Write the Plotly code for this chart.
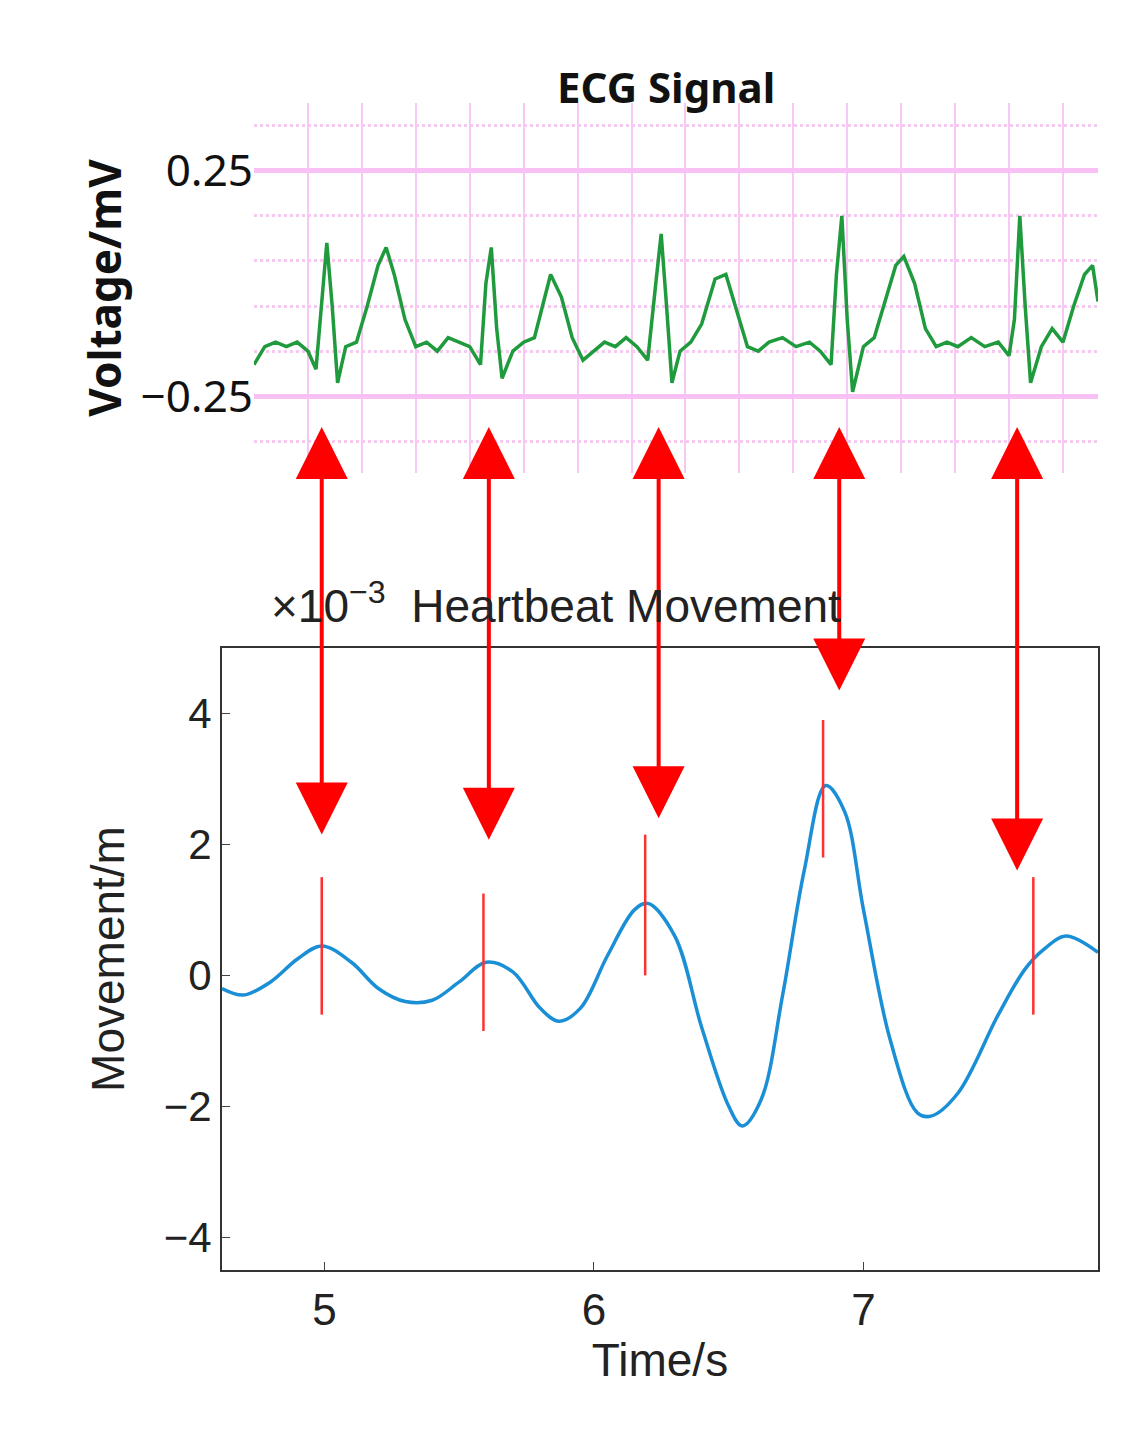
import plotly.graph_objects as go

# ECG samples (time s, voltage mV)
ecg_t = [4.74,4.78,4.82,4.86,4.90,4.94,4.97,4.99,5.01,5.03,5.05,5.08,5.12,5.16,5.20,5.23,5.26,5.30,5.34,5.38,5.42,5.46,5.50,5.54,5.58,5.60,5.62,5.64,5.66,5.70,5.74,5.78,5.81,5.84,5.88,5.92,5.96,6.00,6.04,6.08,6.12,6.16,6.20,6.23,6.25,6.27,6.29,6.32,6.36,6.40,6.45,6.49,6.53,6.57,6.61,6.65,6.70,6.75,6.80,6.84,6.88,6.90,6.92,6.94,6.96,7.00,7.04,7.08,7.12,7.15,7.19,7.23,7.27,7.31,7.35,7.40,7.45,7.50,7.54,7.56,7.58,7.60,7.62,7.66,7.70,7.74,7.78,7.82,7.85,7.87]
ecg_v = [-0.18,-0.14,-0.13,-0.14,-0.13,-0.15,-0.19,-0.05,0.09,-0.05,-0.22,-0.14,-0.13,-0.05,0.04,0.08,0.02,-0.08,-0.14,-0.13,-0.15,-0.12,-0.13,-0.14,-0.18,0.0,0.08,-0.1,-0.21,-0.15,-0.13,-0.12,-0.05,0.02,-0.03,-0.12,-0.17,-0.15,-0.13,-0.14,-0.12,-0.14,-0.17,0.0,0.11,-0.05,-0.22,-0.15,-0.13,-0.09,0.01,0.02,-0.06,-0.14,-0.15,-0.13,-0.12,-0.14,-0.13,-0.15,-0.18,0.02,0.15,-0.08,-0.24,-0.14,-0.12,-0.04,0.04,0.06,0.0,-0.10,-0.14,-0.13,-0.14,-0.12,-0.14,-0.13,-0.16,-0.08,0.15,-0.05,-0.22,-0.14,-0.10,-0.13,-0.05,0.02,0.04,-0.04]

# Heartbeat movement (time s, movement x1e-3 m)
mov_t = [4.62,4.70,4.80,4.90,4.99,5.10,5.20,5.30,5.40,5.50,5.60,5.70,5.80,5.87,5.95,6.05,6.15,6.20,6.30,6.40,6.50,6.55,6.62,6.70,6.78,6.86,6.93,7.00,7.10,7.20,7.25,7.35,7.50,7.60,7.67,7.75,7.87]
mov_v = [-0.2,-0.3,-0.1,0.25,0.45,0.2,-0.2,-0.4,-0.38,-0.1,0.2,0.05,-0.5,-0.7,-0.5,0.3,1.0,1.1,0.6,-0.8,-2.0,-2.3,-1.9,-0.3,1.6,2.9,2.5,1.0,-1.0,-2.1,-2.15,-1.8,-0.6,0.1,0.4,0.6,0.35]

# detected beat markers: time, top, bottom
mark_t = [4.99,5.59,6.19,6.85,7.63]
mark_top = [1.5,1.25,2.15,3.9,1.5]
mark_bot = [-0.6,-0.85,0.0,1.8,-0.6]

# arrows: time, lower end and upper end (movement-axis units)
arrow_t = [4.99,5.61,6.24,6.91,7.57]
arrow_lo = [2.15,2.07,2.4,4.35,1.6]
arrow_hi = 8.4

W, H = 1125, 1452
fig = go.Figure()
fig.add_trace(go.Scatter(x=ecg_t, y=ecg_v, mode="lines", line=dict(color="#1f9a3c", width=3.5),
                         xaxis="x2", yaxis="y2", showlegend=False))
fig.add_trace(go.Scatter(x=mov_t, y=mov_v, mode="lines", line=dict(color="#1a8fd6", width=3.5, shape="spline"),
                         showlegend=False))
for t, a, b in zip(mark_t, mark_top, mark_bot):
    fig.add_trace(go.Scatter(x=[t, t], y=[b, a], mode="lines", line=dict(color="#ff3030", width=2.5), showlegend=False))

for t, lo in zip(arrow_t, arrow_lo):
    fig.add_annotation(x=t, y=lo, xref="x", yref="y", ax=t, ay=arrow_hi, axref="x", ayref="y",
                       text="", showarrow=True, arrowhead=2, arrowside="end+start",
                       arrowsize=2.6, arrowwidth=4, arrowcolor="#ff0000")

font_b = "Liberation Sans, Arial, sans-serif"
fig.update_layout(
    width=W, height=H, margin=dict(l=0, r=0, t=0, b=0),
    paper_bgcolor="white", plot_bgcolor="white",
    xaxis=dict(domain=[214/W, 1090/W], anchor="y", range=[4.62, 7.87], tickvals=[5, 6, 7],
               ticks="inside", ticklen=8, showline=True, linecolor="#333", linewidth=2, mirror=True,
               showgrid=False, zeroline=False, tickfont=dict(size=44, color="#222", family=font_b),
               title=dict(text="Time/s", font=dict(size=46, color="#222", family=font_b), standoff=10)),
    yaxis=dict(domain=[1-1262/H, 1-640/H], anchor="x", range=[-4.5, 5], tickvals=[-4, -2, 0, 2, 4],
               ticktext=["−4", "−2", "0", "2", "4"],
               ticks="inside", ticklen=8, showline=True, linecolor="#333", linewidth=2, mirror=True,
               showgrid=False, zeroline=False, tickfont=dict(size=42, color="#222", family=font_b),
               title=dict(text="Movement/m", font=dict(size=46, color="#222", family=font_b), standoff=25)),
    xaxis2=dict(domain=[246/W, 1090/W], anchor="y2", range=[4.74, 7.87], showticklabels=False,
                dtick=0.2, tick0=4.74, showgrid=True, gridcolor="#f8c8f4", gridwidth=2, zeroline=False, showline=False),
    yaxis2=dict(domain=[1-465/H, 1-95/H], anchor="x2", range=[-0.42, 0.40], tickvals=[-0.25, 0.25],
                ticktext=["−0.25", "0.25"], showgrid=True, gridcolor="#f8c0f4", gridwidth=5, zeroline=False,
                minor=dict(dtick=0.1, tick0=-0.25, showgrid=True, gridcolor="#f6c8f2", griddash="dot", gridwidth=3),
                tickfont=dict(size=44, color="#111", family="Noto Sans"),
                title=dict(text="<b>Voltage/mV</b>", font=dict(size=44, color="#111", family="Noto Sans"), standoff=5)),
)
fig.add_annotation(x=658/W, y=1-48/H, xref="paper", yref="paper", text="<b>ECG Signal</b>", showarrow=False,
                   font=dict(size=42, color="#111", family="Noto Sans"))
fig.add_annotation(x=548/W, y=1-595/H, xref="paper", yref="paper", text="×10<sup>−3</sup>  Heartbeat Movement",
                   showarrow=False, font=dict(size=46, color="#222", family=font_b))
fig.write_html("out.html")
